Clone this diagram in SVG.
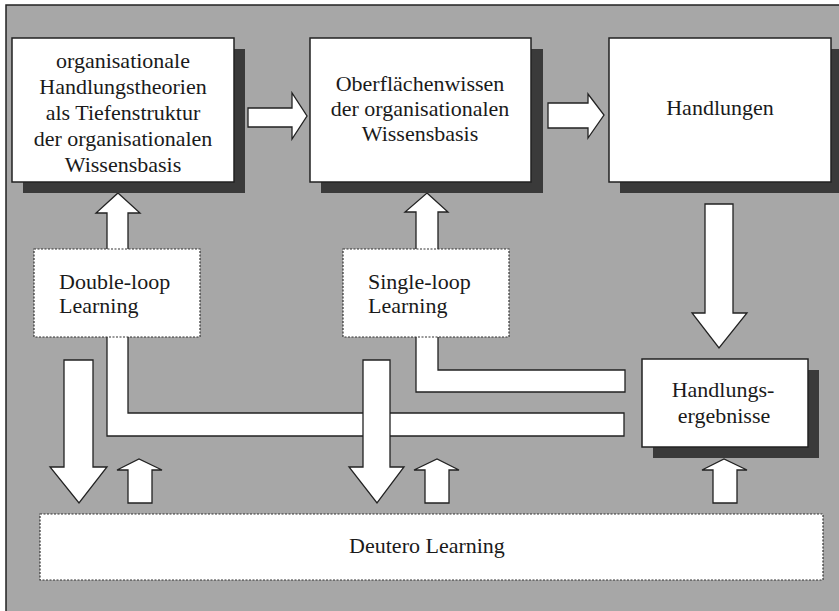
<svg xmlns="http://www.w3.org/2000/svg" width="839" height="611" viewBox="0 0 839 611">
<style>
text{font-family:"Liberation Serif","Times New Roman",serif;font-size:22px;fill:#1a1a1a}
.c{text-anchor:middle}
.box{fill:#fff;stroke:#222;stroke-width:1.5}
.lbl{fill:#fff;stroke:#333;stroke-width:1.2;stroke-dasharray:2 1.5}
.sh{fill:#3a3a3a}
.arr{fill:#fff;stroke:#222;stroke-width:1.3;stroke-linejoin:miter}
</style>
<rect x="0" y="0" width="839" height="611" fill="#fff"/>
<rect x="6" y="5" width="845" height="620" fill="#a7a7a7" stroke="#222" stroke-width="1.5"/>

<g id="connectors">
  <!-- box1 -> box2 -->
  <polygon class="arr" points="248,108 292,108 292,93 307,116 292,139 292,127 248,127"/>
  <!-- box2 -> box3 -->
  <polygon class="arr" points="548,103 588,103 588,94 604,115 588,138 588,128 548,128"/>
  <!-- Handlungen -> Handlungsergebnisse -->
  <polygon class="arr" points="705,204 733,204 733,313 747,313 719,348 692,313 705,313"/>
  <!-- double-loop loop -->
  <polygon class="arr" points="118,193 140,213 128,213 128,413 624,413 624,436 107,436 107,213 96,213"/>
  <!-- single-loop loop -->
  <polygon class="arr" points="427,193 448,212 438,212 438,370 625,370 625,392 416,392 416,212 405,212"/>
  <!-- down arrows to Deutero -->
  <polygon class="arr" points="64,360 93,360 93,467 107,467 79,503 50,467 64,467"/>
  <polygon class="arr" points="363,360 390,360 390,467 404,467 377,503 349,467 363,467"/>
  <!-- up arrows from Deutero -->
  <polygon class="arr" points="128,503 152,503 152,470 162,470 139,459 117,470 128,470"/>
  <polygon class="arr" points="425,503 449,503 449,470 459,470 437,459 414,470 425,470"/>
  <polygon class="arr" points="713,503 737,503 737,470 747,470 724,459 702,470 713,470"/>
</g>

<g id="n_theorien">
  <rect class="sh" x="23" y="49" width="222" height="144"/>
  <rect class="box" x="12" y="38" width="222" height="144"/>
  <text class="c" x="123" y="68">organisationale</text>
  <text class="c" x="123" y="94">Handlungstheorien</text>
  <text class="c" x="123" y="120">als Tiefenstruktur</text>
  <text class="c" x="123" y="146">der organisationalen</text>
  <text class="c" x="123" y="172">Wissensbasis</text>
</g>

<g id="n_oberflaeche">
  <rect class="sh" x="321" y="49" width="222" height="144"/>
  <rect class="box" x="310" y="38" width="221" height="144"/>
  <text class="c" x="420" y="91">Oberflächenwissen</text>
  <text class="c" x="420" y="116">der organisationalen</text>
  <text class="c" x="420" y="141">Wissensbasis</text>
</g>

<g id="n_handlungen">
  <rect class="sh" x="620" y="49" width="222" height="144"/>
  <rect class="box" x="609" y="38" width="222" height="144"/>
  <text class="c" x="720" y="115">Handlungen</text>
</g>

<g id="n_ergebnisse">
  <rect class="sh" x="653" y="370" width="166" height="88"/>
  <rect class="box" x="642" y="359" width="166" height="88"/>
  <text class="c" x="723" y="397">Handlungs-</text>
  <text class="c" x="724" y="423">ergebnisse</text>
</g>

<g id="n_double">
  <rect class="lbl" x="34" y="249" width="166" height="88"/>
  <text x="59" y="289">Double-loop</text>
  <text x="59" y="313">Learning</text>
</g>

<g id="n_single">
  <rect class="lbl" x="343" y="249" width="166" height="88"/>
  <text x="368" y="289">Single-loop</text>
  <text x="368" y="313">Learning</text>
</g>

<g id="n_deutero">
  <rect class="lbl" x="40" y="514" width="783" height="66"/>
  <text class="c" x="427" y="553">Deutero Learning</text>
</g>
</svg>
